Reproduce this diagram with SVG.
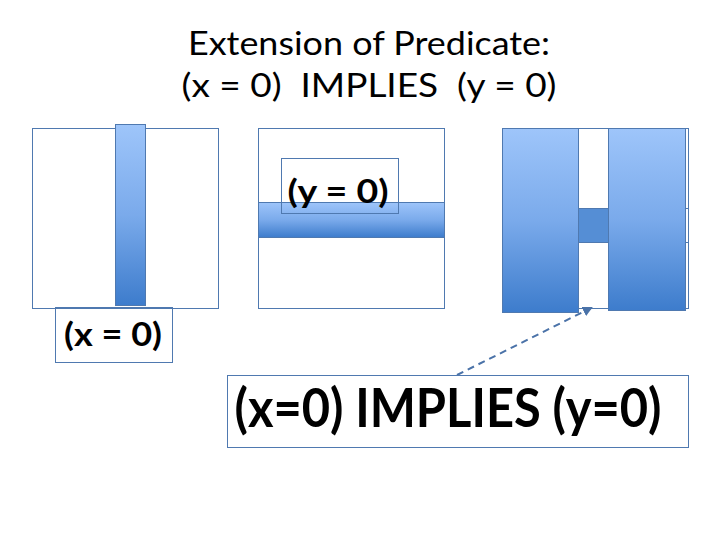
<svg xmlns="http://www.w3.org/2000/svg" width="720" height="540" viewBox="0 0 720 540">
<defs>
<linearGradient id="gv" x1="0" y1="0" x2="0" y2="1">
<stop offset="0" stop-color="#9ec5fa"/>
<stop offset="0.5" stop-color="#7aaaeb"/>
<stop offset="1" stop-color="#3d7ccc"/>
</linearGradient>
<marker id="ah" viewBox="0 0 10 10" refX="8" refY="5" markerWidth="5" markerHeight="5" orient="auto">
<path d="M0,0 L10,5 L0,10 z" fill="#4a72a8"/>
</marker>
</defs>
<style>
.frame{fill:#ffffff;stroke:#4f79b0;stroke-width:1}
.bar{fill:url(#gv);stroke:#4f79b0;stroke-width:1}
.lbl{fill:none;stroke:#4f79b0;stroke-width:1}
.title{font-family:Lato,"Liberation Sans",Arial,sans-serif;font-size:32px;fill:#000;white-space:pre}
.bold{font-family:Lato,"Liberation Sans",Arial,sans-serif;font-weight:bold;fill:#000}
</style>
<rect width="720" height="540" fill="#ffffff"/>
<g id="title">
<text class="title" x="369" y="55" text-anchor="middle" textLength="362" lengthAdjust="spacingAndGlyphs">Extension of Predicate:</text>
<text class="title" x="369" y="97" text-anchor="middle" textLength="375" lengthAdjust="spacingAndGlyphs">(x = 0)  IMPLIES  (y = 0)</text>
</g>
<g id="box-x">
<rect class="frame" x="32.5" y="128.5" width="186" height="180"/>
<rect class="bar" x="115.5" y="124.5" width="30" height="181"/>
</g>
<g id="label-x">
<rect class="lbl" x="55.5" y="307.5" width="117" height="55"/>
<text class="bold" x="113" y="346" font-size="32" text-anchor="middle" textLength="98" lengthAdjust="spacingAndGlyphs">(x = 0)</text>
</g>
<g id="box-y">
<rect class="frame" x="258.5" y="128.5" width="186" height="180"/>
<rect class="bar" x="258.5" y="202.5" width="186" height="35"/>
</g>
<g id="label-y">
<rect class="lbl" x="281.5" y="158.5" width="117" height="55"/>
<text class="bold" x="338" y="203" font-size="32" text-anchor="middle" textLength="101" lengthAdjust="spacingAndGlyphs">(y = 0)</text>
</g>
<g id="box-implies">
<rect class="frame" x="502.5" y="128.5" width="186" height="180"/>
<rect fill="none" stroke="#4f79b0" x="502.5" y="208.5" width="186" height="34"/>
<rect fill="#558ed5" stroke="#4f79b0" x="578.5" y="208.5" width="30" height="34"/>
<rect class="bar" x="502.5" y="128.5" width="76" height="184"/>
<rect class="bar" x="608.5" y="128.5" width="77" height="182"/>
</g>
<g id="connectors">
<line x1="457" y1="375" x2="591" y2="308" stroke="#4a72a8" stroke-width="2" stroke-dasharray="7,5" marker-end="url(#ah)"/>
</g>
<g id="label-implies">
<rect class="lbl" x="227.5" y="375.5" width="461" height="72"/>
<text class="bold" x="448" y="427" font-size="54" text-anchor="middle" textLength="427" lengthAdjust="spacingAndGlyphs">(x=0) IMPLIES (y=0)</text>
</g>
</svg>
